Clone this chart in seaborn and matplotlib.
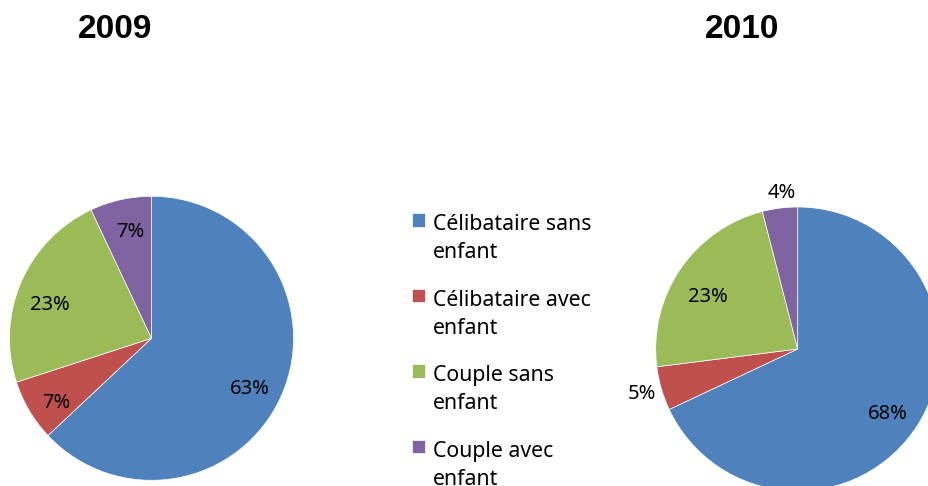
import matplotlib
matplotlib.use('Agg')
import matplotlib.pyplot as plt
import numpy as np
import seaborn as sns
from matplotlib.patches import Rectangle
from matplotlib.legend_handler import HandlerPatch

# Data
categories = ['Célibataire sans\nenfant', 'Célibataire avec\nenfant',
              'Couple sans\nenfant', 'Couple avec\nenfant']
years = ['2009', '2010']
share_2009 = [63, 7, 23, 7]
share_2010 = [68, 5, 23, 4]

colors = ['#4F81BD', '#C0504D', '#9BBB59', '#8064A2']
# label placement: distance from centre (fraction of radius) and angle nudge (deg)
label_dist_2009 = [0.77, 0.80, 0.76, 0.78]
label_nudge_2009 = [-2.8, 2.3, 4.1, -1.8]
label_dist_2010 = [0.77, 1.14, 0.74, 1.12]
label_nudge_2010 = [-2.2, -1.0, 3.1, -1.4]

sns.set_theme(style='white')
plt.rcParams['font.family'] = ['Noto Sans', 'DejaVu Sans']
plt.rcParams['text.color'] = 'black'

W, H = 929, 486
fig = plt.figure(figsize=(W / 100, H / 100), dpi=100)

R = 142  # pie radius in pixels
L = 2.5 * R


def pie_axes(cx, cy):
    # cx, cy: pie centre in pixels (from top-left)
    return fig.add_axes([(cx - L / 2) / W, (H - cy - L / 2) / H, L / W, L / H])


def draw_pie(ax, values, dists, nudges):
    wedges, _, autotexts = ax.pie(values, colors=colors, startangle=90,
                                  counterclock=False, radius=1,
                                  autopct='%d%%', pctdistance=0.78,
                                  wedgeprops=dict(edgecolor='white', linewidth=0.5),
                                  textprops=dict(fontsize=14.5, color='black'))
    for w, t, d, n in zip(wedges, autotexts, dists, nudges):
        ang = np.deg2rad((w.theta1 + w.theta2) / 2 + n)
        t.set_position((d * np.cos(ang), d * np.sin(ang)))
        t.set_va('center_baseline')
    ax.set_xlim(-1.25, 1.25)
    ax.set_ylim(-1.25, 1.25)
    ax.set_aspect('equal')
    return wedges


ax1 = pie_axes(151.5, 338.3)
wedges = draw_pie(ax1, share_2009, label_dist_2009, label_nudge_2009)
ax2 = pie_axes(797.7, 349)
draw_pie(ax2, share_2010, label_dist_2010, label_nudge_2010)

fig.text(115.5 / W, 1 - 29 / H, years[0], ha='center', va='center', color='black',
         fontsize=24, fontweight='bold', family='Liberation Sans')
fig.text(742.5 / W, 1 - 29 / H, years[1], ha='center', va='center', color='black',
         fontsize=24, fontweight='bold', family='Liberation Sans')


def square_handle(legend, orig_handle, xdescent, ydescent, width, height, fontsize):
    return Rectangle((-xdescent, -ydescent + 13.8), width, height)


leg = fig.legend(wedges, categories, loc='upper left',
                 bbox_to_anchor=(412 / W, 1 - 214 / H), bbox_transform=fig.transFigure,
                 frameon=False, fontsize=15.3, handlelength=0.62, handleheight=0.62,
                 handletextpad=0.38, labelspacing=1.24, borderpad=0, borderaxespad=0,
                 handler_map={w: HandlerPatch(patch_func=square_handle) for w in wedges})
for t in leg.get_texts():
    t.set_linespacing(1.45)
    t.set_color('black')

fig.savefig('out.png', dpi=100)
